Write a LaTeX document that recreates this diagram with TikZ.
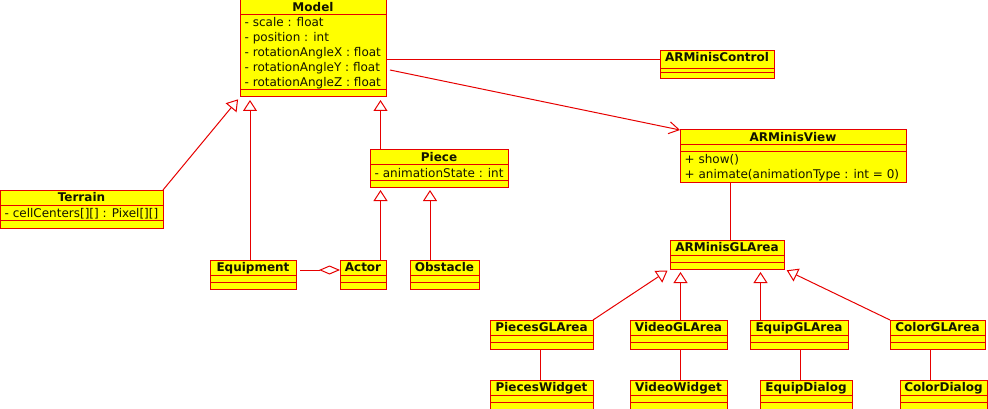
\documentclass[tikz,border=0pt]{standalone}
\usepackage{fontspec}
\setmainfont{DejaVu Sans}
\usetikzlibrary{arrows.meta,calc}
\definecolor{umlred}{RGB}{230,0,0}
\definecolor{umlyel}{RGB}{255,255,0}
\definecolor{umltxt}{RGB}{20,20,0}
\tikzset{
  clsbox/.style={draw=umlred, fill=umlyel, line width=1pt, inner sep=0pt, outer sep=0pt, rectangle},
  sepln/.style={draw=umlred, line width=1pt},
  ttltxt/.style={font=\fontsize{12}{15}\selectfont\bfseries, text=umltxt, inner sep=0pt, anchor=base},
  attrtxt/.style={font=\fontsize{12}{15}\selectfont, text=umltxt, inner sep=0pt, anchor=base west},
  conn/.style={draw=umlred, line width=1pt},
  gen/.style={conn, -{Triangle[open, length=11pt, width=14pt, fill=white]}, shorten >=3pt},
  dep/.style={conn, -{Straight Barb[length=10pt, width=12pt]}},
  agg/.style={conn, -{Diamond[open, length=21pt, width=9pt, fill=white]}},
}
% name, x1, y1, x2, y2, title
\newcommand{\umlcls}[6]{%
  \node[clsbox, minimum width={#4-#2}, minimum height={#5-#3}, anchor=north west] (#1) at (#2,#3) {};
  \node[ttltxt] (#1-t) at ({(#2+#4)/2},{#3+11.5}) {#6};
}
% x1, x2, y
\newcommand{\sepat}[3]{\draw[sepln] (#1,#3) -- (#2,#3);}
\begin{document}
\begin{tikzpicture}[x=1pt,y=-1pt]
\useasboundingbox (0,0) rectangle (988,409);

% Model
\umlcls{Model}{240}{0}{386}{97}{Model}
\sepat{240}{386}{15}\sepat{240}{386}{90}
\node[attrtxt] (Model-a1) at (244.5,27) {- scale : float};
\node[attrtxt] (Model-a2) at (244.5,42) {- position : int};
\node[attrtxt] (Model-a3) at (244.5,57) {- rotationAngleX : float};
\node[attrtxt] (Model-a4) at (244.5,72) {- rotationAngleY : float};
\node[attrtxt] (Model-a5) at (244.5,87) {- rotationAngleZ : float};

% ARMinisControl
\umlcls{Ctrl}{660}{50.5}{774}{79}{ARMinisControl}
\sepat{660}{774}{69}\sepat{660}{774}{73}

% ARMinisView
\umlcls{View}{680}{130}{906}{182}{ARMinisView}
\sepat{680}{906}{145}\sepat{680}{906}{152}
\node[attrtxt] (View-o1) at (684.5,163.5) {+ show()};
\node[attrtxt] (View-o2) at (684.5,178.5) {+ animate(animationType : int = 0)};

% Piece
\umlcls{Piece}{370}{150}{508}{187}{Piece}
\sepat{370}{508}{165}\sepat{370}{508}{180}
\node[attrtxt] (Piece-a1) at (374.5,177) {- animationState : int};

% Terrain
\umlcls{Terrain}{0}{190}{163}{228}{Terrain}
\sepat{0}{163}{205}\sepat{0}{163}{220}
\node[attrtxt] (Terrain-a1) at (4.5,217) {- cellCenters[][] : Pixel[][]};

% Equipment, Actor, Obstacle
\umlcls{Equip}{210}{260}{296}{289}{Equipment}
\sepat{210}{296}{275}\sepat{210}{296}{282}
\umlcls{Actor}{340}{260}{386}{289}{Actor}
\sepat{340}{386}{275}\sepat{340}{386}{282}
\umlcls{Obst}{410}{260}{479}{289}{Obstacle}
\sepat{410}{479}{275}\sepat{410}{479}{282}

% ARMinisGLArea
\umlcls{GLA}{670}{240}{784}{269}{ARMinisGLArea}
\sepat{670}{784}{255}\sepat{670}{784}{262}

% GL areas
\umlcls{PGL}{490}{320}{593}{349}{PiecesGLArea}
\sepat{490}{593}{335}\sepat{490}{593}{342}
\umlcls{VGL}{630}{320}{727}{349}{VideoGLArea}
\sepat{630}{727}{335}\sepat{630}{727}{342}
\umlcls{EGL}{750}{320}{848}{349}{EquipGLArea}
\sepat{750}{848}{335}\sepat{750}{848}{342}
\umlcls{CGL}{890}{320}{985}{349}{ColorGLArea}
\sepat{890}{985}{335}\sepat{890}{985}{342}

% Widgets / dialogs
\umlcls{PW}{490}{380}{593}{410}{PiecesWidget}
\sepat{490}{593}{395}\sepat{490}{593}{402}
\umlcls{VW}{630}{380}{727}{410}{VideoWidget}
\sepat{630}{727}{395}\sepat{630}{727}{402}
\umlcls{ED}{760}{380}{852}{410}{EquipDialog}
\sepat{760}{852}{395}\sepat{760}{852}{402}
\umlcls{CD}{900}{380}{987}{410}{ColorDialog}
\sepat{900}{987}{395}\sepat{900}{987}{402}

% connectors
\coordinate (c1) at ([yshift=-9.5pt]Ctrl.north west);
\draw[conn] (c1 -| Model.east) -- (c1);
\draw[dep] ([shift={(4pt,-70pt)}]Model.north east) -- (View.north west);

\draw[gen] (Terrain.north east) -- (Model.south west);
\draw[gen] ([xshift=40pt]Equip.north west) -- ([xshift=10pt]Model.south west);
\draw[gen] ([xshift=10.5pt]Piece.north west) -- ([xshift=140.5pt]Model.south west);
\draw[gen] ([xshift=40.5pt]Actor.north west) -- ([xshift=10.5pt]Piece.south west);
\draw[gen] ([xshift=20pt]Obst.north west) -- ([xshift=60pt]Piece.south west);

\coordinate (a1) at ([yshift=-10pt]Actor.north west);
\draw[agg] ([xshift=4pt]a1 -| Equip.east) -- (a1);

\draw[conn] ([xshift=50pt]View.south west) -- ([xshift=60pt]GLA.north west);

\draw[gen] (PGL.north east) -- (GLA.south west);
\draw[gen] ([xshift=50.5pt]VGL.north west) -- ([xshift=10.5pt]GLA.south west);
\draw[gen] ([xshift=10.5pt]EGL.north west) -- ([xshift=90.5pt]GLA.south west);
\draw[gen] (CGL.north west) -- (GLA.south east);

\draw[conn] ([xshift=50pt]PGL.south west) -- ([xshift=50pt]PW.north west);
\draw[conn] ([xshift=50pt]VGL.south west) -- ([xshift=50pt]VW.north west);
\draw[conn] ([xshift=50pt]EGL.south west) -- ([xshift=40pt]ED.north west);
\draw[conn] ([xshift=40pt]CGL.south west) -- ([xshift=30pt]CD.north west);
\end{tikzpicture}
\end{document}
